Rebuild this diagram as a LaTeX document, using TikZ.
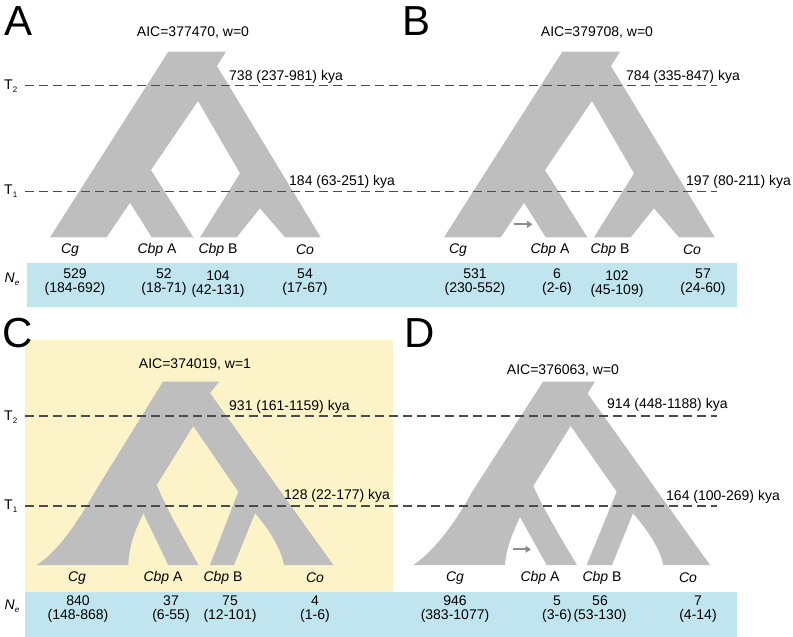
\documentclass[tikz,border=0pt]{standalone}
\usepackage{fontspec}
\setmainfont{Liberation Sans}
\usepackage{tikz}
\usetikzlibrary{arrows.meta, positioning, calc}
\definecolor{treegray}{RGB}{190, 190, 190}
\definecolor{nebar}{RGB}{193, 229, 238}
\definecolor{bestfit}{RGB}{253, 243, 200}
\definecolor{dashgray}{RGB}{75, 75, 75}
\definecolor{arrowgray}{RGB}{140, 140, 140}

\begin{document}
\begin{tikzpicture}[x=1pt, y=-1pt,
		tree/.style={fill=treegray},
		panel/.style={anchor=north west, inner sep=0pt, font=\fontsize{42}{42}\selectfont},
		aic/.style={font=\fontsize{14}{15}\selectfont},
		kya/.style={anchor=west, inner sep=0pt, font=\fontsize{14}{15}\selectfont},
		taxon/.style={font=\fontsize{14}{15}\selectfont},
		nesize/.style={align=center, font=\fontsize{14}{13.5}\selectfont},
		tlabel/.style={anchor=west, inner sep=0pt, font=\fontsize{14}{15}\selectfont},
		timeline/.style={draw=dashgray, line width=1.4pt, dash pattern=on 8.5pt off 5.5pt},
		migration/.style={-{Triangle[length=5.5pt, width=7pt]}, draw=arrowgray, line width=1.9pt}
		]
		\useasboundingbox (0,0) rectangle (793,637);
		
		% backgrounds
		\fill[bestfit] (25,340) rectangle (393,592);
		\fill[nebar] (27,263) rectangle (737,307);
		\fill[nebar] (25,592) rectangle (737,637);
		
		% model A
		\fill[tree] (168.3,51.7) -- (226,51.7) -- (217,66) -- (320.7,237.3)
		-- (285,237.3) -- (260,208.3) -- (236.7,237.3) -- (200,237.3)
		-- (240,173.3) -- (198,101) -- (151,170) -- (193.3,237.3)
		-- (151.7,237.3) -- (130,202.7) -- (106.7,237.3) -- (50,237.3) -- cycle;
		
		% model B
		\fill[tree] (562.3,51.7) -- (620,51.7) -- (611,66) -- (714.7,237.3)
		-- (679,237.3) -- (654,208.3) -- (630.7,237.3) -- (594,237.3)
		-- (634,173.3) -- (592,101) -- (545,170) -- (587.3,237.3)
		-- (545.7,237.3) -- (524,202.7) -- (500.7,237.3) -- (444,237.3) -- cycle;
		
		% model C
		\fill[tree] (163,381.7) -- (219,381.7) -- (210,393) -- (333.3,565)
		-- (284,565) .. controls (281,548) and (268,528) .. (255,513.3)
		-- (234,565) -- (210,565) -- (238.3,491.7) -- (193.3,426)
		-- (156.7,485) .. controls (168,512) and (185,540) .. (198.3,565)
		-- (168.3,565) -- (143.3,513.3)
		.. controls (136,528) and (129,545) .. (128.3,565)
		-- (36.7,565) .. controls (60,550) and (80,518) .. (96,490) -- cycle;
		
		% model D
		\fill[tree] (543,381.7) -- (595,381.7) -- (587.5,393.3) -- (710,565)
		-- (663.3,565) .. controls (660,548) and (646,528) .. (633,513.3)
		-- (612,565) -- (586.7,565) -- (616.7,491.7) -- (570.7,426)
		-- (533.3,486) .. controls (545,512) and (562,540) .. (577,565)
		-- (546.7,565) -- (520,517)
		.. controls (513,532) and (506,548) .. (505,565)
		-- (413.3,565) .. controls (436,550) and (458,518) .. (472,492) -- cycle;
		
		% divergence times
		\node[tlabel] (t2top) at (4,86) {T\raisebox{-3pt}{\fontsize{8}{8}\selectfont 2}};
		\node[tlabel] (t1top) at (4,191) {T\raisebox{-3pt}{\fontsize{8}{8}\selectfont 1}};
		\node[tlabel] (t2bot) at (4,417) {T\raisebox{-3pt}{\fontsize{8}{8}\selectfont 2}};
		\node[tlabel] (t1bot) at (4,506) {T\raisebox{-3pt}{\fontsize{8}{8}\selectfont 1}};
		\coordinate (t2topL) at (25,85.5);
		\coordinate (t2topR) at (717,85.5);
		\coordinate (t1topL) at (25,191.7);
		\coordinate (t1topR) at (717,191.7);
		\coordinate (t2botL) at (25,416);
		\coordinate (t2botR) at (717,416);
		\coordinate (t1botL) at (25,506);
		\coordinate (t1botR) at (717,506);
		\draw[timeline] (t2topL) -- (t2topR);
		\draw[timeline] (t1topL) -- (t1topR);
		\draw[timeline] (t2botL) -- (t2botR);
		\draw[timeline] (t1botL) -- (t1botR);
		
		% gene flow into Cbp A
		\coordinate (flowB) at (514,224.3);
		\coordinate (intoB) at (532.5,224.3);
		\draw[migration] (flowB) -- (intoB);
		\coordinate (flowD) at (512.5,549.3);
		\coordinate (intoD) at (531,549.3);
		\draw[migration] (flowD) -- (intoD);
		
		% panel letters and fits
		\node[panel] (lettA) at (4,6) {A};
		\node[panel] (lettB) at (402,6) {B};
		\node[panel] (lettC) at (2,318) {C};
		\node[panel] (lettD) at (404,318) {D};
		\node[aic] (aicA) at (193,33) {AIC=377470, w=0};
		\node[aic] (aicB) at (597,33) {AIC=379708, w=0};
		\node[aic] (aicC) at (195,365) {AIC=374019, w=1};
		\node[aic] (aicD) at (563,371) {AIC=376063, w=0};
		
		\node[kya] (kyaA2) at (229,77) {738 (237-981) kya};
		\node[kya] (kyaA1) at (289,182) {184 (63-251) kya};
		\node[kya] (kyaB2) at (626,77) {784 (335-847) kya};
		\node[kya] (kyaB1) at (686,182) {197 (80-211) kya};
		\node[kya] (kyaC2) at (229,407) {931 (161-1159) kya};
		\node[kya] (kyaC1) at (284,496) {128 (22-177) kya};
		\node[kya] (kyaD2) at (607,405) {914 (448-1188) kya};
		\node[kya] (kyaD1) at (666,497) {164 (100-269) kya};
		
		% lineages
		\node[taxon] (cgA) at (70,250) {\textit{Cg}};
		\node[taxon] (cbpaA) at (157,250) {\textit{Cbp} A};
		\node[taxon] (cbpbA) at (218,250) {\textit{Cbp} B};
		\node[taxon] (coA) at (305,250) {\textit{Co}};
		\node[taxon] (cgB) at (458,250) {\textit{Cg}};
		\node[taxon] (cbpaB) at (550,250) {\textit{Cbp} A};
		\node[taxon] (cbpbB) at (610,250) {\textit{Cbp} B};
		\node[taxon] (coB) at (692,250) {\textit{Co}};
		\node[taxon] (cgC) at (77,578) {\textit{Cg}};
		\node[taxon] (cbpaC) at (163,578) {\textit{Cbp} A};
		\node[taxon] (cbpbC) at (223,578) {\textit{Cbp} B};
		\node[taxon] (coC) at (315,578) {\textit{Co}};
		\node[taxon] (cgD) at (455,578) {\textit{Cg}};
		\node[taxon] (cbpaD) at (540,578) {\textit{Cbp} A};
		\node[taxon] (cbpbD) at (602,578) {\textit{Cbp} B};
		\node[taxon] (coD) at (688,578) {\textit{Co}};
		
		% effective sizes
		\node[taxon] (neTop) at (12,279) {\textit{N}\raisebox{-3pt}{\fontsize{8}{8}\selectfont\textit{e}}};
		\node[taxon] (neBot) at (12,606) {\textit{N}\raisebox{-3pt}{\fontsize{8}{8}\selectfont\textit{e}}};
		\node[nesize] (neA1) at (75,282) {529\\(184-692)};
		\node[nesize] (neA2) at (164,282) {52\\(18-71)};
		\node[nesize] (neA3) at (218,284) {104\\(42-131)};
		\node[nesize] (neA4) at (305,282) {54\\(17-67)};
		\node[nesize] (neB1) at (475,282) {531\\(230-552)};
		\node[nesize] (neB2) at (557,282) {6\\(2-6)};
		\node[nesize] (neB3) at (617,284) {102\\(45-109)};
		\node[nesize] (neB4) at (703,282) {57\\(24-60)};
		\node[nesize] (neC1) at (78,609) {840\\(148-868)};
		\node[nesize] (neC2) at (171,609) {37\\(6-55)};
		\node[nesize] (neC3) at (230,609) {75\\(12-101)};
		\node[nesize] (neC4) at (315,609) {4\\(1-6)};
		\node[nesize] (neD1) at (455,609) {946\\(383-1077)};
		\node[nesize] (neD2) at (557,609) {5\\(3-6)};
		\node[nesize] (neD3) at (600,609) {56\\(53-130)};
		\node[nesize] (neD4) at (698,609) {7\\(4-14)};
	\end{tikzpicture}
\end{document}
